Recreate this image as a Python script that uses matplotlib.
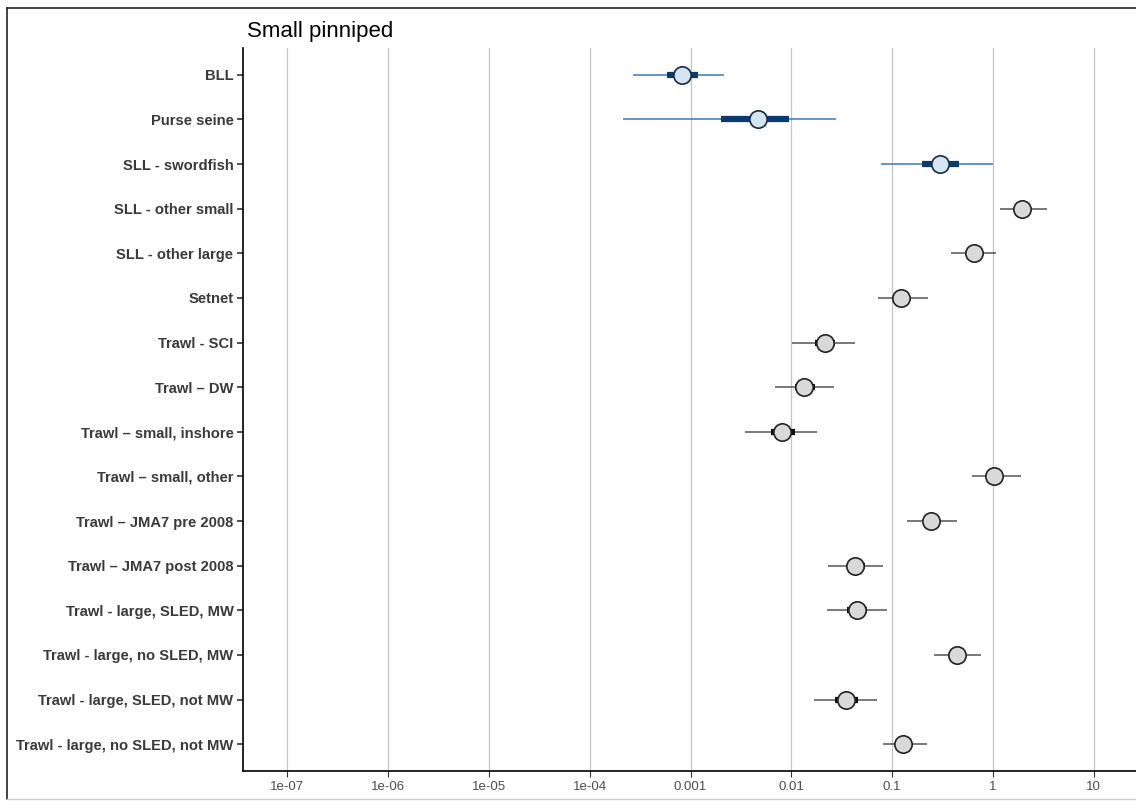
import numpy as np
import matplotlib
matplotlib.use("Agg")
import matplotlib.pyplot as plt
from matplotlib.lines import Line2D

# fisheries (top to bottom)
fisheries = ["BLL", "Purse seine", "SLL - swordfish", "SLL - other small",
             "SLL - other large", "Setnet", "Trawl - SCI", "Trawl \u2013 DW",
             "Trawl \u2013 small, inshore", "Trawl \u2013 small, other",
             "Trawl \u2013 JMA7 pre 2008", "Trawl \u2013 JMA7 post 2008",
             "Trawl - large, SLED, MW", "Trawl - large, no SLED, MW",
             "Trawl - large, SLED, not MW", "Trawl - large, no SLED, not MW"]
# posterior median and intervals (log10 scale)
median_log = [-3.08, -2.33, -0.52, 0.29, -0.19, -0.91, -1.67, -1.87,
              -2.09, 0.01, -0.61, -1.37, -1.35, -0.36, -1.46, -0.89]
lo95_log = [-3.57, -3.67, -1.11, 0.07, -0.42, -1.14, -1.99, -2.16,
            -2.46, -0.21, -0.85, -1.64, -1.65, -0.58, -1.78, -1.09]
hi95_log = [-2.67, -1.56, 0.00, 0.54, 0.03, -0.64, -1.37, -1.58,
            -1.75, 0.28, -0.36, -1.09, -1.05, -0.12, -1.15, -0.65]
lo50_log = [-3.23, -2.70, -0.70, 0.22, -0.26, -0.98, -1.77, -1.96,
            -2.20, -0.06, -0.68, -1.45, -1.45, -0.43, -1.57, -0.95]
hi50_log = [-2.93, -2.02, -0.34, 0.36, -0.12, -0.84, -1.57, -1.77,
            -1.96, 0.08, -0.52, -1.27, -1.25, -0.29, -1.34, -0.82]
observed = [True, True, True] + [False] * 13  # blue = fisheries with data

xticks = [1e-7, 1e-6, 1e-5, 1e-4, 1e-3, 1e-2, 1e-1, 1, 10]
xticklabels = ["1e-07", "1e-06", "1e-05", "1e-04", "0.001", "0.01", "0.1", "1", "10"]

plt.rcParams['font.family'] = ['Liberation Sans', 'DejaVu Sans']

fig = plt.figure(figsize=(11.36, 8.01), dpi=100)
ax = fig.add_axes([0.214, 0.0375, 0.786, 0.9025])

for i in range(len(fisheries)):
    if observed[i]:
        thin_c, thick_c, fill_c, edge_c = "#3f78b0", "#0b3a6e", "#d3e4f3", "#1a2a3a"
    else:
        thin_c, thick_c, fill_c, edge_c = "#555555", "#111111", "#d9d9d9", "#222222"
    ax.plot([10 ** lo95_log[i], 10 ** hi95_log[i]], [i, i], color=thin_c, lw=1.1,
            solid_capstyle="butt", zorder=2)
    ax.plot([10 ** lo50_log[i], 10 ** hi50_log[i]], [i, i], color=thick_c, lw=4.5,
            solid_capstyle="butt", zorder=3)
    ax.plot(10 ** median_log[i], i, "o", ms=12.5, mfc=fill_c, mec=edge_c, mew=1.2, zorder=4)

ax.set_xscale("log")
ax.set_xlim(10 ** -7.44, 10 ** 1.42)
ax.set_ylim(len(fisheries) - 0.4, -0.6)
ax.set_xticks(xticks)
ax.set_xticklabels(xticklabels)
ax.xaxis.set_minor_locator(matplotlib.ticker.NullLocator())
ax.set_yticks(range(len(fisheries)))
ax.set_yticklabels(fisheries, fontweight="bold", fontsize=10.6, color="#3a3a3a")
ax.tick_params(axis="x", labelsize=9.5, labelcolor="#4d4d4d", length=4, color="#333333")
ax.tick_params(axis="y", length=4, color="#333333", width=1.2, pad=3)
ax.grid(axis="x", color="#c4c4c4", lw=0.9)
ax.set_axisbelow(True)
for s in ["top", "right"]:
    ax.spines[s].set_visible(False)
ax.spines["left"].set_linewidth(1.2)
ax.spines["bottom"].set_linewidth(1.2)

ax.set_title("Small pinniped", loc="left", fontsize=16, pad=8, x=0.004)

# frame of the original screenshot: top and left edges
fig.add_artist(Line2D([0.006, 1.0], [0.99, 0.99], transform=fig.transFigure,
                      color="#222222", lw=1.2))
fig.add_artist(Line2D([0.006, 0.006], [0.003, 0.99], transform=fig.transFigure,
                      color="#222222", lw=1.2))
fig.add_artist(Line2D([0.006, 1.0], [0.003, 0.003], transform=fig.transFigure,
                      color="#cccccc", lw=1))

fig.savefig("out.png", dpi=100)
